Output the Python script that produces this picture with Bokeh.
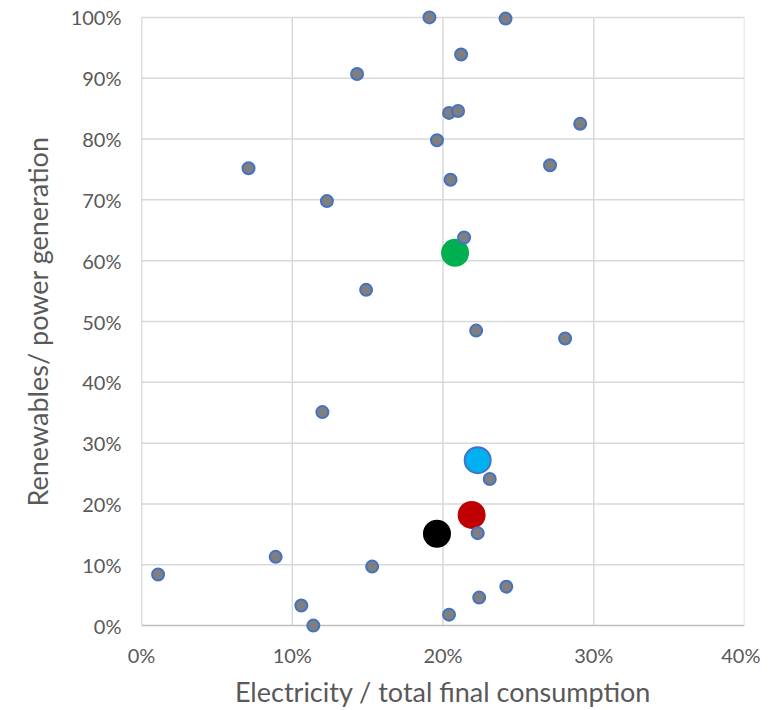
from bokeh.plotting import figure
from bokeh.models import Range1d, FixedTicker, ColumnDataSource
from bokeh.embed import file_html
from bokeh.resources import INLINE

# ---- data (percent) ----
elec_share = [19.1, 24.15, 21.2, 14.3, 20.4, 21.0, 29.1, 19.6, 7.1, 27.1,
              20.5, 12.3, 21.4, 14.9, 22.2, 28.1, 12.0, 23.1, 22.3, 8.9,
              1.1, 15.3, 10.6, 11.4, 20.4, 22.4, 24.2]
renew_share = [100.0, 99.8, 93.9, 90.7, 84.3, 84.6, 82.5, 79.8, 75.2, 75.7,
               73.3, 69.8, 63.8, 55.2, 48.5, 47.2, 35.1, 24.1, 15.2, 11.3,
               8.4, 9.7, 3.3, 0.0, 1.8, 4.6, 6.4]
highlight_x = [20.8, 22.3, 21.9, 19.6]
highlight_y = [61.3, 27.2, 18.2, 15.1]
highlight_fill = ["#00B050", "#00B0F0", "#C00000", "#000000"]
highlight_line = ["#00B050", "#4472C4", "#C00000", "#000000"]
x_ticks = [0, 10, 20, 30, 40]
y_ticks = [0, 10, 20, 30, 40, 50, 60, 70, 80, 90, 100]
x_title = "Electricity / total final consumption"
y_title = "Renewables/ power generation"

FONT = "Lato"
TXT = "#595959"
GRID = "#D9D9D9"
AXIS = "#BFBFBF"

p = figure(width=760, height=710, output_backend="svg", toolbar_location=None,
           x_range=Range1d(x_ticks[0], x_ticks[-1]),
           y_range=Range1d(-1.3, 101.3),
           min_border_left=141, min_border_right=16, min_border_top=9,
           min_border_bottom=75)
p.outline_line_color = None
p.grid.visible = False
p.background_fill_color = "white"
p.border_fill_color = "white"

# grid lines (bounded to data extent)
vx = x_ticks[1:]
p.segment(x0=vx, y0=[y_ticks[0]] * len(vx), x1=vx, y1=[y_ticks[-1]] * len(vx),
          line_color=GRID, line_width=1.5)
hy = y_ticks[1:]
p.segment(x0=[x_ticks[0]] * len(hy), y0=hy, x1=[x_ticks[-1]] * len(hy), y1=hy,
          line_color=GRID, line_width=1.5)
# axis lines
p.segment(x0=[x_ticks[0], x_ticks[0]], y0=[y_ticks[0], y_ticks[0]],
          x1=[x_ticks[0], x_ticks[-1]], y1=[y_ticks[-1], y_ticks[0]],
          line_color=AXIS, line_width=1.5)

# highlighted large markers
hsrc = ColumnDataSource(dict(x=highlight_x, y=highlight_y, fc=highlight_fill, lc=highlight_line))
p.scatter("x", "y", source=hsrc, size=26, fill_color="fc", line_color="lc", line_width=2)

# small markers
src = ColumnDataSource(dict(x=elec_share, y=renew_share))
p.scatter("x", "y", source=src, size=12, fill_color="#7F7F7F", line_color="#4472C4", line_width=2)

for ax, ticks in ((p.xaxis, x_ticks), (p.yaxis, y_ticks)):
    ax.ticker = FixedTicker(ticks=ticks)
    ax.major_label_overrides = {t: f"{t}%" for t in ticks}
    ax.axis_line_color = None
    ax.major_tick_line_color = None
    ax.minor_tick_line_color = None
    ax.major_tick_out = 0
    ax.major_tick_in = 0
    ax.major_label_text_font = FONT
    ax.major_label_text_font_size = "20px"
    ax.major_label_text_color = TXT
    ax.axis_label_text_font = FONT
    ax.axis_label_text_font_size = "27px"
    ax.axis_label_text_font_style = "normal"
    ax.axis_label_text_color = TXT

p.xaxis.axis_label = x_title
p.yaxis.axis_label = y_title
p.xaxis.major_label_standoff = 9
p.xaxis.axis_label_standoff = 5
p.yaxis.major_label_standoff = 20
p.yaxis.axis_label_standoff = 14

open("out.html", "w").write(file_html(p, INLINE))
